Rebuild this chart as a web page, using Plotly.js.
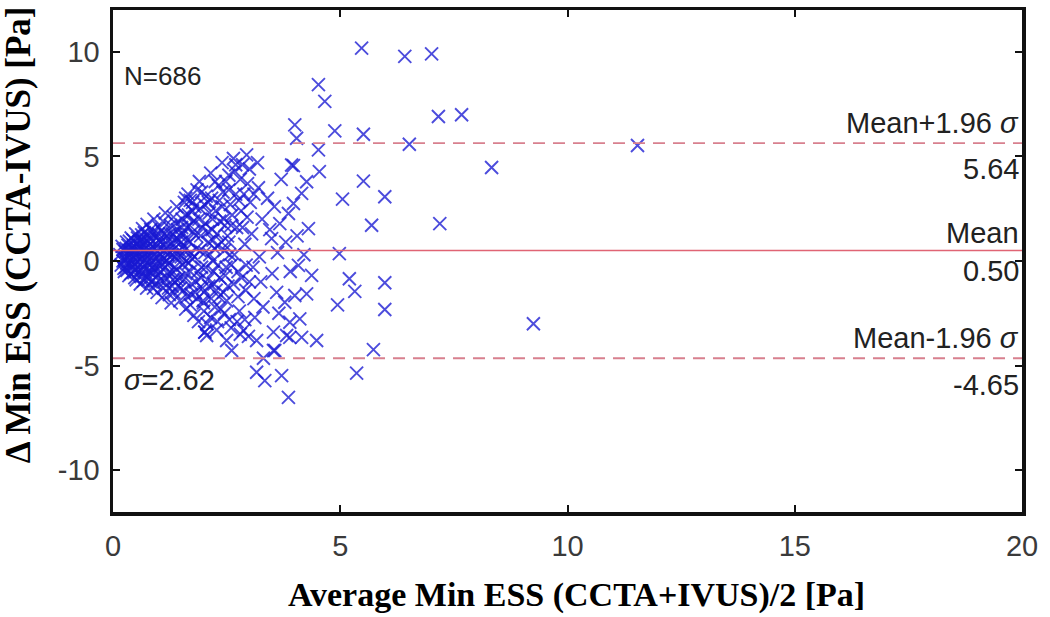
<!DOCTYPE html>
<html>
<head>
<meta charset="utf-8">
<script src="https://cdn.plot.ly/plotly-3.0.1.min.js"></script>
<style>html,body{margin:0;padding:0;background:#fff;}#chart{width:1050px;height:617px;}</style>
</head>
<body>
<div id="chart"></div>
<script>
// Dense cluster of points (average, difference)
const clusterX = [0.15,0.18,0.2,0.22,0.25,0.27,0.3,0.28,0.32,0.35,
0.4,0.42,0.45,0.43,0.48,0.5,0.52,0.55,0.53,0.57,0.6,0.58,0.47,0.62,0.38,
0.65,0.66,0.68,0.7,0.72,0.74,0.76,0.78,0.8,0.82,0.84,0.7,0.75,0.85,0.88,
0.9,0.92,0.94,0.95,0.97,1.0,1.02,1.03,1.05,1.07,1.1,1.08,0.98,1.12,0.93,
1.15,1.17,1.18,1.2,1.22,1.25,1.27,1.28,1.3,1.32,1.33,1.35,1.24,1.19,1.36,
1.4,1.42,1.44,1.45,1.47,1.5,1.52,1.53,1.55,1.57,1.58,1.6,1.48,1.43,1.62,
1.65,1.66,1.68,1.7,1.72,1.74,1.76,1.78,1.8,1.82,1.84,1.85,1.7,1.77,1.67,
1.9,1.92,1.93,1.95,1.97,2.0,2.02,2.03,2.05,2.07,2.08,2.1,1.98,2.12,2.06,
2.15,2.17,2.18,2.2,2.22,2.24,2.26,2.28,2.3,2.32,2.33,2.35,2.21,2.02,
2.4,2.42,2.44,2.45,2.47,2.5,2.5,2.52,2.55,2.56,2.58,2.6,2.61,2.48,
2.65,2.68,2.7,2.72,2.75,2.78,2.8,2.82,2.85,2.87,2.9,2.92,2.94,2.96,
3.0,3.02,3.05,3.08,3.1,3.12,3.16,3.2,3.22,3.25,3.28,3.3,3.31,3.18,
3.4,3.45,3.49,3.5,3.53,3.55,3.56,3.6,3.62,3.67,3.65,3.7,
3.78,3.82,3.86,3.89,3.93,3.97,4.0,4.08,4.11,4.15,4.15,4.26,4.26,4.3,4.37,3.8,3.9,4.05,4.2,
0.25,0.3,0.35,0.4,0.45,0.5,0.55,0.6,0.65,0.7,0.75,0.8,0.85,0.9,0.95,1.0,1.05,1.1,1.15,1.2,
1.25,1.3,1.35,1.4,1.45,1.5,1.55,1.6,0.33,0.62,0.88,1.13,1.38,0.5,0.7,0.9,1.0,1.2,0.8,0.6,
1.6,1.75,1.95,2.1,2.25,2.4,2.55,2.7,2.8,2.2,2.35,2.45,2.6,2.75,2.9,2.0,1.85,2.15,2.3,2.55,
2.65,2.85,3.0,3.1,2.95,1.88,1.7,2.6,
0.22,0.24,0.26,0.29,0.31,0.34,0.36,0.37,0.39,0.41,
0.44,0.46,0.49,0.51,0.54,0.56,0.59,0.61,0.63,0.64,
0.67,0.69,0.71,0.73,0.77,0.79,0.81,0.83,0.86,0.87,
0.89,0.91,0.93,0.96,0.99,1.01,1.04,1.06,1.09,1.11,
1.14,1.16,1.21,1.23,1.26,1.29,1.31,1.34,1.37,1.39,
1.41,1.46,1.49,1.51,1.54,1.56,1.59,1.61,1.63,1.64,
1.69,1.71,1.73,1.75,1.79,1.81,1.83,1.87,1.89,1.91,
1.94,1.96,1.99,2.01,2.04,2.09,2.11,2.13,2.16,2.19,
2.23,2.27,2.29,2.31,2.34,2.37,2.39,2.43,2.46,2.49,
2.53,2.57,2.62,2.67,2.73,2.77,2.83,2.88,2.93,2.98];
const clusterY = [0.3,-0.2,0.7,0.0,-0.5,0.45,0.9,-0.3,0.15,-0.7,
1.1,0.6,0.2,-0.3,-0.8,1.3,0.8,0.4,-0.05,-0.5,-1.1,0.95,-0.15,0.1,0.35,
1.55,1.0,0.55,-0.2,-0.75,-1.3,1.25,0.3,-0.5,0.8,-1.0,0.05,1.75,0.0,1.4,
2.0,0.6,-0.35,1.1,-1.5,0.2,1.6,-0.9,0.9,-0.2,1.9,-1.75,0.45,0.5,-1.1,
2.3,1.2,0.0,-0.6,-1.3,0.7,1.7,-2.0,0.3,-0.9,2.1,1.0,-1.6,0.45,-0.3,
2.6,1.5,0.2,-0.8,-1.9,0.9,2.0,-0.2,-1.4,2.8,0.5,-2.3,1.2,-1.2,1.6,
3.2,2.2,0.9,-0.5,-1.6,0.1,1.4,-2.6,2.6,-1.0,0.6,3.4,-2.1,1.9,-0.1,
3.8,2.5,1.2,-0.3,-1.3,-2.4,0.4,1.8,3.1,-3.0,-0.9,0.9,-1.9,2.3,-3.56,
4.2,3.0,1.5,0.0,-1.1,-2.2,2.4,-3.3,0.7,3.6,-1.7,1.9,-0.5,-3.4,
4.7,3.3,2.0,0.5,-0.7,-1.9,-3.8,1.2,4.1,-2.8,2.7,-0.2,-4.28,3.8,
4.9,4.3,3.2,1.6,-0.5,-2.4,-3.5,2.4,4.6,-3.32,0.8,-1.4,5.07,3.7,
4.4,2.8,1.3,-0.3,-1.8,-2.7,-3.8,3.5,0.2,-1.0,2.0,-2.2,-4.65,4.7,
3.0,1.5,1.07,-0.6,-3.4,2.6,-4.28,-1.5,0.4,1.79,-2.5,3.9,
-1.97,-3.56,2.27,-2.93,4.59,2.75,-1.65,-0.21,-2.77,3.23,-3.65,3.79,-1.57,1.55,-0.69,0.9,-0.5,1.2,0.3,
0.2,-0.1,0.5,0.0,0.75,-0.4,0.2,0.6,-0.3,0.9,0.15,1.1,-0.6,0.3,-0.1,1.3,-0.5,0.1,0.8,-0.2,
1.3,-1.2,0.6,-0.4,1.0,0.2,1.3,-0.6,0.75,-0.75,-0.9,-1.0,1.8,0.5,0.35,-0.4,0.6,0.3,-0.2,1.0,
3.0,2.8,3.3,2.8,3.8,2.6,3.4,4.6,3.9,1.0,-0.8,-2.5,-3.2,-1.7,-2.8,-1.5,-1.8,-2.7,-2.9,0.9,
-1.1,1.6,-1.0,3.2,2.1,-2.9,2.9,1.7,
0.55,-0.35,0.1,0.6,-0.45,0.25,0.95,-0.2,-0.6,0.45,
1.0,-0.55,0.3,-0.9,1.1,-0.25,0.75,-0.45,1.25,0.3,
-0.95,1.35,0.6,-0.4,0.95,-0.85,0.5,1.5,-0.3,0.7,
-1.3,1.2,0.1,0.8,-0.7,1.0,0.35,1.45,-0.15,-1.3,
1.3,-0.8,1.0,-0.1,0.4,-0.6,1.3,-1.5,0.2,1.1,
-0.9,0.5,-1.3,1.6,0.7,-0.9,2.2,0.0,-1.7,1.0,
1.7,0.4,-1.1,2.4,0.2,-1.5,1.2,-0.5,2.0,0.5,
-0.8,1.6,-2.0,2.7,-0.3,1.4,-1.2,0.3,-1.8,2.0,
0.6,-1.4,1.3,-0.2,2.9,-2.3,0.9,-1.5,1.7,-0.3,
-1.2,0.3,2.2,0.3,-2.9,2.9,-0.8,3.2,-0.2,-3.6];

// Scattered points away from the cluster
const outlierX = [5.47,6.42,7.01,4.52,4.66,7.16,7.67,4.0,4.04,4.88,5.51,6.52,4.52,3.97,4.54,5.51,5.05,5.98,5.69,7.19,
11.54,8.33,9.25,4.98,5.2,5.32,5.98,5.98,4.94,5.73,5.36,3.86,3.16,3.34,3.71,4.48,3.89,3.53,2.02];
const outlierY = [10.18,9.78,9.9,8.43,7.63,6.91,6.99,6.51,5.87,6.22,6.06,5.58,5.31,4.56,4.27,3.82,2.96,3.07,1.71,1.79,
5.52,4.47,-3.0,0.35,-0.85,-1.45,-1.04,-2.32,-2.1,-4.24,-5.36,-6.52,-5.32,-5.72,-5.48,-3.8,-3.65,-4.28,-3.4];

// Statistics
const meanDiff = 0.50;
const upperLoA = 5.64;
const lowerLoA = -4.65;
const sigma = 2.62;
const nPoints = 686;

const xTicks = [0,5,10,15,20];
const yTicks = [-10,-5,0,5,10];

const markerStyle = {symbol:'x-thin-open', size:13, color:'rgba(25,25,210,0.78)', line:{width:1.9, color:'rgba(25,25,210,0.78)'}};

const traces = [
  {type:'scatter', mode:'markers', x: clusterX.concat(outlierX), y: clusterY.concat(outlierY), marker: markerStyle, hoverinfo:'x+y', showlegend:false}
];

const sansFont = 'Arial, "Liberation Sans", sans-serif';
const serifFont = '"Times New Roman", "Liberation Serif", serif';

const layout = {
  width:1050, height:617,
  margin:{l:113, r:28, t:10, b:105},
  paper_bgcolor:'#fff', plot_bgcolor:'#fff',
  showlegend:false,
  xaxis:{range:[0,20], tickvals:xTicks, ticktext:xTicks.map(String), ticks:'inside', ticklen:7, tickwidth:2, tickcolor:'#111',
    showline:true, linewidth:3.5, linecolor:'#111', mirror:'allticks', showgrid:false, zeroline:false,
    tickfont:{family:sansFont, size:29, color:'#3a3a3a'}, ticklabelstandoff:6},
  yaxis:{range:[-12,12], tickvals:yTicks, ticktext:yTicks.map(String), ticks:'inside', ticklen:7, tickwidth:2, tickcolor:'#111',
    showline:true, linewidth:3.5, linecolor:'#111', mirror:'allticks', showgrid:false, zeroline:false,
    tickfont:{family:sansFont, size:29, color:'#3a3a3a'}, ticklabelstandoff:4},
  shapes:[
    {type:'line', xref:'paper', x0:0, x1:1, yref:'y', y0:meanDiff, y1:meanDiff, line:{color:'#e06474', width:1.5}},
    {type:'line', xref:'paper', x0:0, x1:1, yref:'y', y0:upperLoA, y1:upperLoA, line:{color:'#d8808e', width:1.8, dash:'12px,8px'}},
    {type:'line', xref:'paper', x0:0, x1:1, yref:'y', y0:lowerLoA, y1:lowerLoA, line:{color:'#d8808e', width:1.8, dash:'12px,8px'}}
  ],
  annotations:[
    {text:'N=' + nPoints, x:0.2, y:8.83, xref:'x', yref:'y', xanchor:'left', yanchor:'middle', showarrow:false, font:{family:sansFont, size:26, color:'#222'}},
    {text:'<i>σ</i>=' + sigma.toFixed(2), x:0.2, y:-5.7, xref:'x', yref:'y', xanchor:'left', yanchor:'middle', showarrow:false, font:{family:sansFont, size:29, color:'#222'}},
    {text:'Mean+1.96 <i>σ</i>', x:19.97, y:upperLoA+0.98, xref:'x', yref:'y', xanchor:'right', yanchor:'middle', showarrow:false, font:{family:sansFont, size:29, color:'#222'}},
    {text:upperLoA.toFixed(2), x:19.97, y:upperLoA-1.22, xref:'x', yref:'y', xanchor:'right', yanchor:'middle', showarrow:false, font:{family:sansFont, size:29, color:'#222'}},
    {text:'Mean', x:19.97, y:meanDiff+0.85, xref:'x', yref:'y', xanchor:'right', yanchor:'middle', showarrow:false, font:{family:sansFont, size:29, color:'#222'}},
    {text:meanDiff.toFixed(2), x:19.97, y:meanDiff-1.0, xref:'x', yref:'y', xanchor:'right', yanchor:'middle', showarrow:false, font:{family:sansFont, size:29, color:'#222'}},
    {text:'Mean-1.96 <i>σ</i>', x:19.97, y:lowerLoA+0.95, xref:'x', yref:'y', xanchor:'right', yanchor:'middle', showarrow:false, font:{family:sansFont, size:29, color:'#222'}},
    {text:lowerLoA.toFixed(2), x:19.97, y:lowerLoA-1.27, xref:'x', yref:'y', xanchor:'right', yanchor:'middle', showarrow:false, font:{family:sansFont, size:29, color:'#222'}},
    {text:'<b>Average Min ESS (CCTA+IVUS)/2 [Pa]</b>', x:0.51, y:-0.166, xref:'paper', yref:'paper', xanchor:'center', yanchor:'middle', showarrow:false, font:{family:serifFont, size:34, color:'#000'}},
    {text:'<b>Δ Min ESS (CCTA-IVUS) [Pa]</b>', x:-0.104, y:0.552, xref:'paper', yref:'paper', xanchor:'center', yanchor:'middle', textangle:-90, showarrow:false, font:{family:serifFont, size:35, color:'#000'}}
  ]
};

Plotly.newPlot('chart', traces, layout, {displayModeBar:false, staticPlot:true});
</script>
</body>
</html>
